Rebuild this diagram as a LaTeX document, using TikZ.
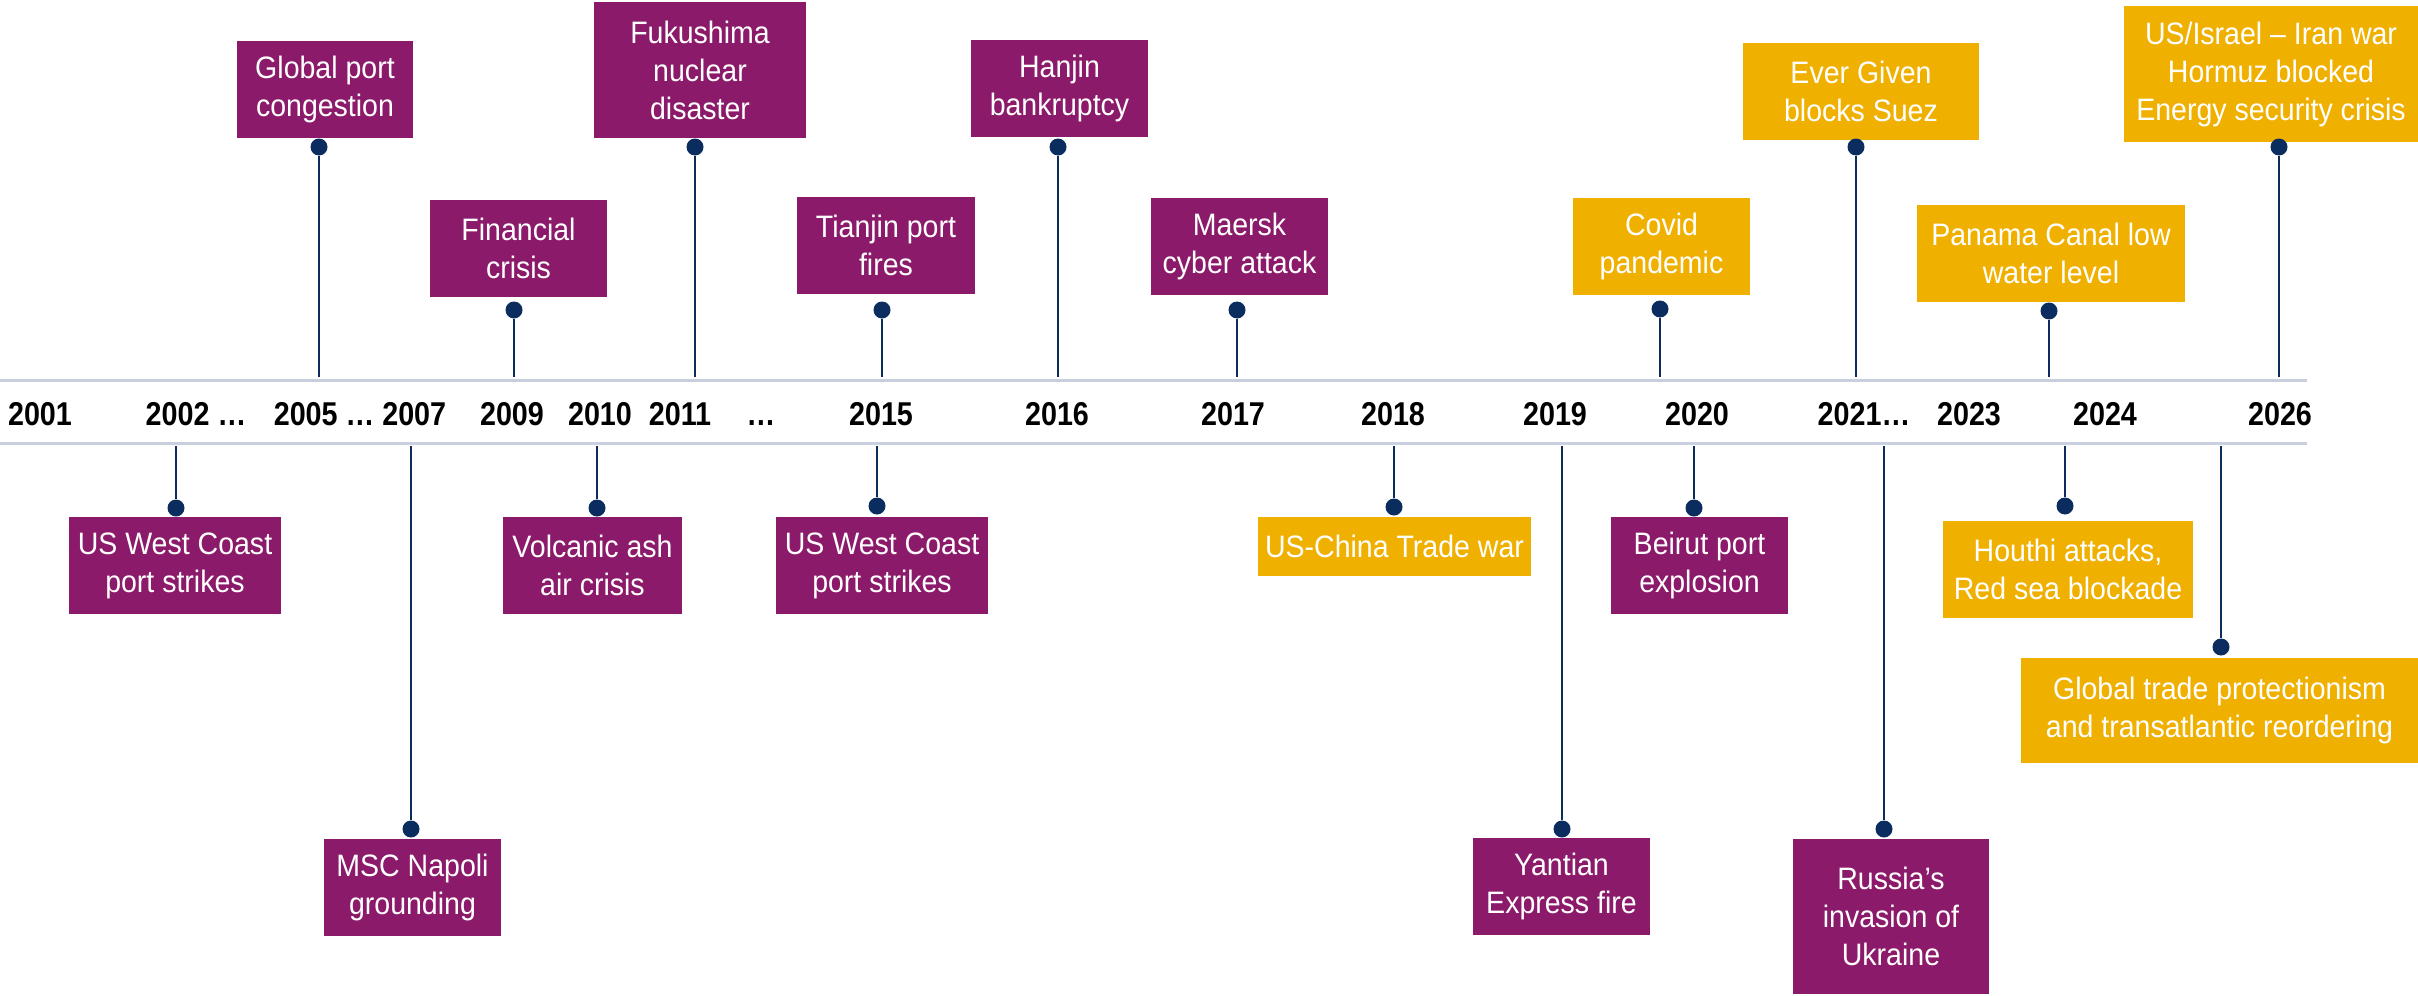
\documentclass[tikz,border=0pt]{standalone}
\usepackage{fontspec}
\newfontfamily\boxf[FakeStretch=0.92]{Liberation Sans}
\newfontfamily\yearf[FakeStretch=0.87]{Liberation Sans}
\definecolor{plum}{RGB}{140,26,106}
\definecolor{gold}{RGB}{240,176,0}
\definecolor{navy}{RGB}{10,44,94}
\definecolor{axisc}{RGB}{200,208,221}
\begin{document}
\begin{tikzpicture}[x=1pt,y=-1pt,
  evbox/.style={inner sep=0pt, text=white, align=center, font=\boxf\fontsize{31}{38}\selectfont},
  pbox/.style={evbox, fill=plum},
  gbox/.style={evbox, fill=gold},
  dot/.style={circle, fill=navy, inner sep=0pt, minimum size=17pt},
  stem/.style={navy, line width=2.5pt},
  axisline/.style={axisc, line width=3pt},
  yr/.style={font=\yearf\bfseries\fontsize{33}{38}\selectfont, text=black, inner sep=0pt, anchor=base}]
\useasboundingbox (0,0) rectangle (2418,996);

% axis
\coordinate (axTL) at (0,380); \coordinate (axTR) at (2307,380);
\coordinate (axBL) at (0,443); \coordinate (axBR) at (2307,443);
\draw[axisline] (axTL) -- (axTR);
\draw[axisline] (axBL) -- (axBR);

% years
\node[yr] (y2001) at (40,425) {2001};
\node[yr] (y2002) at (196,425) {2002 …};
\node[yr] (y2005) at (360,425) {2005 … 2007};
\node[yr] (y2009) at (512,425) {2009};
\node[yr] (y2010) at (600,425) {2010};
\node[yr] (y2011) at (680,425) {2011};
\node[yr] (ydots) at (761,425) {…};
\node[yr] (y2015) at (881,425) {2015};
\node[yr] (y2016) at (1057,425) {2016};
\node[yr] (y2017) at (1233,425) {2017};
\node[yr] (y2018) at (1393,425) {2018};
\node[yr] (y2019) at (1555,425) {2019};
\node[yr] (y2020) at (1697,425) {2020};
\node[yr] (y2021) at (1864,425) {2021…};
\node[yr] (y2023) at (1969,425) {2023};
\node[yr] (y2024) at (2105,425) {2024};
\node[yr] (y2026) at (2280,425) {2026};

% upper events
\node[pbox, minimum width=176pt, minimum height=97pt] (gpc) at (325,89.5) {Global port\\congestion};
\node[pbox, minimum width=212pt, minimum height=136pt] (fuk) at (700,70) {Fukushima\\nuclear\\disaster};
\node[pbox, minimum width=177pt, minimum height=97pt] (fin) at (518.5,248.5) {Financial\\crisis};
\node[pbox, minimum width=178pt, minimum height=97pt] (tia) at (886,245.5) {Tianjin port\\fires};
\node[pbox, minimum width=177pt, minimum height=97pt] (han) at (1059.5,88.5) {Hanjin\\bankruptcy};
\node[pbox, minimum width=177pt, minimum height=97pt] (mae) at (1239.5,246.5) {Maersk\\cyber attack};
\node[gbox, minimum width=177pt, minimum height=97pt] (cov) at (1661.5,246.5) {Covid\\pandemic};
\node[gbox, minimum width=236pt, minimum height=97pt] (eve) at (1861,91.5) {Ever Given\\blocks Suez};
\node[gbox, minimum width=268pt, minimum height=97pt] (pan) at (2051,253.5) {Panama Canal low\\water level};
\node[gbox, minimum width=294pt, minimum height=136pt] (usi) at (2271,74) {US/Israel – Iran war\\Hormuz blocked\\Energy security crisis};

% lower events
\node[pbox, minimum width=212pt, minimum height=97pt] (usw1) at (175,565.5) {US West Coast\\port strikes};
\node[pbox, minimum width=177pt, minimum height=97pt] (msc) at (412.5,887.5) {MSC Napoli\\grounding};
\node[pbox, minimum width=179pt, minimum height=97pt] (vol) at (592.5,565.5) {Volcanic ash\\air crisis};
\node[pbox, minimum width=212pt, minimum height=97pt] (usw2) at (882,565.5) {US West Coast\\port strikes};
\node[gbox, minimum width=273pt, minimum height=59pt] (usc) at (1394.5,546.5) {US-China Trade war};
\node[pbox, minimum width=177pt, minimum height=97pt] (yan) at (1561.5,886.5) {Yantian\\Express fire};
\node[pbox, minimum width=177pt, minimum height=97pt] (bei) at (1699.5,565.5) {Beirut port\\explosion};
\node[pbox, minimum width=196pt, minimum height=155pt] (rus) at (1891,916.5) {Russia’s\\invasion of\\Ukraine};
\node[gbox, minimum width=250pt, minimum height=97pt] (hou) at (2068,569.5) {Houthi attacks,\\Red sea blockade};
\node[gbox, minimum width=397pt, minimum height=105pt] (glo) at (2219.5,710.5) {Global trade protectionism\\and transatlantic reordering};

% upper stems
\foreach \n/\x/\y in {gpc/319/147, fuk/695/147, fin/514/310, tia/882/310, han/1058/147, mae/1237/310, cov/1660/309, eve/1856/147, pan/2049/311, usi/2279/147}{
  \node[dot] (d\n) at (\x,\y) {};
  \coordinate (a\n) at (\x,377);
  \draw[stem] (d\n) -- (a\n);
}
% lower stems
\foreach \n/\x/\y in {usw1/176/508, msc/411/829, vol/597/508, usw2/877/506, usc/1394/507, yan/1562/829, bei/1694/508, rus/1884/829, hou/2065/506, glo/2221/647}{
  \node[dot] (d\n) at (\x,\y) {};
  \coordinate (a\n) at (\x,446);
  \draw[stem] (a\n) -- (d\n);
}
\end{tikzpicture}
\end{document}
